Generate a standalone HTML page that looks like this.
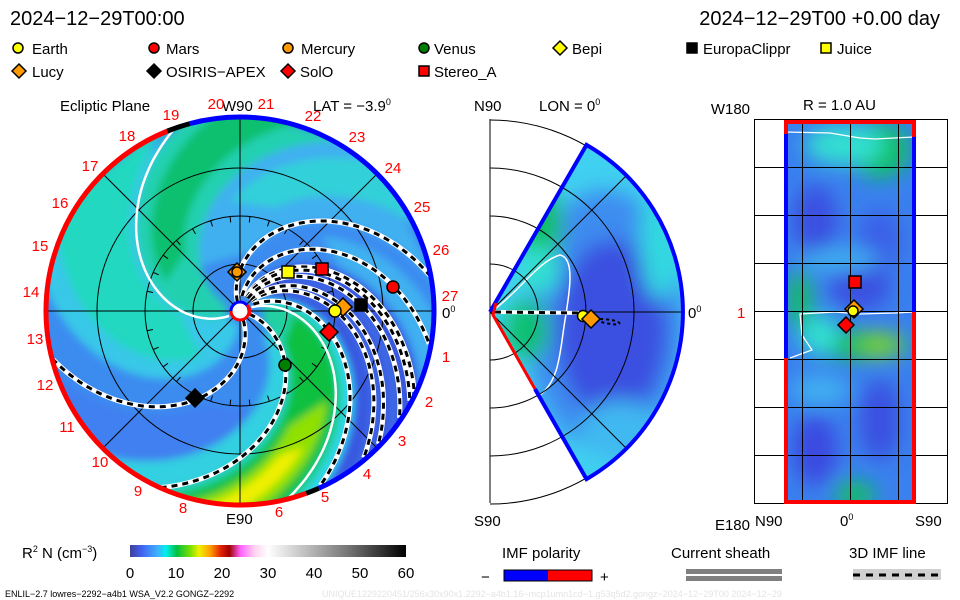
<!DOCTYPE html>
<html><head><meta charset="utf-8">
<style>
html,body{margin:0;padding:0;background:#fff;}
svg{display:block;font-family:"Liberation Sans",sans-serif;}
</style></head>
<body>
<svg id="s" width="960" height="600" viewBox="0 0 960 600" xmlns="http://www.w3.org/2000/svg">
<defs>
<filter id="bl" x="-10%" y="-10%" width="120%" height="120%"><feGaussianBlur stdDeviation="4"/></filter>
<filter id="bl2" x="-30%" y="-30%" width="160%" height="160%"><feGaussianBlur stdDeviation="10"/></filter>
<clipPath id="cL"><circle cx="240" cy="311" r="193"/></clipPath>
<clipPath id="cM"><path d="M490,312 L586.5,144.9 A193,193 0 0 1 586.5,479.1 Z"/></clipPath>
<clipPath id="cR"><rect x="785" y="122" width="129" height="380"/></clipPath>
<linearGradient id="cb" x1="0" x2="1" y1="0" y2="0">
<stop offset="0" stop-color="#404098"/>
<stop offset="0.04" stop-color="#4060f0"/>
<stop offset="0.1" stop-color="#40b0ff"/>
<stop offset="0.13" stop-color="#00f0f0"/>
<stop offset="0.17" stop-color="#00c040"/>
<stop offset="0.22" stop-color="#80e000"/>
<stop offset="0.25" stop-color="#f0f000"/>
<stop offset="0.29" stop-color="#ffa000"/>
<stop offset="0.33" stop-color="#e02000"/>
<stop offset="0.36" stop-color="#a00000"/>
<stop offset="0.40" stop-color="#ff60ff"/>
<stop offset="0.45" stop-color="#ffd0f0"/>
<stop offset="0.5" stop-color="#ffffff"/>
<stop offset="0.6" stop-color="#d0d0d0"/>
<stop offset="0.8" stop-color="#707070"/>
<stop offset="1" stop-color="#000000"/>
</linearGradient>
</defs>

<!-- LEFT PANEL -->
<g clip-path="url(#cL)">
<circle cx="240" cy="311" r="193" fill="#3c8cf0"/>
<g id="bands" filter="url(#bl)"></g>
</g>
<g id="leftgrid" fill="none" stroke="#000" stroke-width="1">
<circle cx="240" cy="311" r="47"/>
<circle cx="240" cy="311" r="95"/>
<circle cx="240" cy="311" r="143"/>
<line x1="47" y1="311" x2="433" y2="311"/>
<line x1="240" y1="118" x2="240" y2="504"/>
<line x1="104" y1="175" x2="376" y2="447"/>
<line x1="104" y1="447" x2="376" y2="175"/>
</g>
<g id="ticks" stroke="#000" stroke-width="1"></g>
<g id="lines"></g>
<g id="rim" fill="none" stroke-width="5"></g>
<circle cx="240" cy="311" r="9" fill="#fff"/>
<path d="M231,311 A9,9 0 0 1 249,311" fill="none" stroke="#0000ff" stroke-width="3"/>
<path d="M231,311 A9,9 0 0 0 249,311" fill="none" stroke="#ff0000" stroke-width="3"/>
<path d="M247,305 A9,9 0 0 1 249,315" fill="none" stroke="#ff0000" stroke-width="3"/>

<g stroke="#000" stroke-width="1.5">
<path d="M237,263 L246,272 L237,281 L228,272 Z" fill="#ff9900"/>
<circle cx="237" cy="272" r="5" fill="#ff9900"/>
<rect x="282" y="266" width="12" height="12" fill="#ffff00"/>
<rect x="316" y="263" width="12" height="12" fill="#ff0000"/>
<circle cx="393" cy="287" r="6" fill="#ff0000"/>
<path d="M343,298 L352,307 L343,316 L334,307 Z" fill="#ff9900"/>
<circle cx="335" cy="311" r="6" fill="#ffff00"/>
<rect x="355" y="299" width="12" height="12" fill="#000"/>
<path d="M329,323 L338,332 L329,341 L320,332 Z" fill="#ff0000"/>
<circle cx="285" cy="365" r="6" fill="#008000"/>
<path d="M195,389 L204,398 L195,407 L186,398 Z" fill="#000"/>
</g>

<g font-size="15" fill="#000">
<text x="60" y="111">Ecliptic Plane</text>
<text x="222" y="111">W90</text>
<text x="313" y="111">LAT = −3.9<tspan font-size="9" dy="-6">0</tspan></text>
<text x="226" y="524">E90</text>
<text x="442" y="318">0<tspan font-size="9" dy="-6">0</tspan></text>
</g>
<g font-size="15" fill="#ff0000" text-anchor="middle" dominant-baseline="middle">
<text x="216" y="105">20</text><text x="266" y="105">21</text>
<text x="313" y="117">22</text><text x="357" y="138">23</text><text x="393" y="169">24</text>
<text x="422" y="208">25</text><text x="441" y="251">26</text><text x="450" y="297">27</text>
<text x="446" y="358">1</text><text x="429" y="403">2</text><text x="402" y="442">3</text>
<text x="367" y="475">4</text><text x="325" y="498">5</text><text x="279" y="513">6</text>
<text x="183" y="509">8</text><text x="138" y="492">9</text><text x="100" y="463">10</text>
<text x="67" y="428">11</text><text x="45" y="386">12</text><text x="35" y="340">13</text>
<text x="31" y="293">14</text><text x="40" y="247">15</text><text x="60" y="204">16</text>
<text x="90" y="167">17</text><text x="127" y="137">18</text><text x="171" y="116">19</text>
</g>

<!-- MIDDLE PANEL -->
<g clip-path="url(#cM)">
<rect x="480" y="130" width="220" height="360" fill="#40d0f0"/>
<g filter="url(#bl2)">
<ellipse cx="605" cy="320" rx="80" ry="130" fill="#3c8cf0"/>
<ellipse cx="612" cy="330" rx="55" ry="90" fill="#3a50e0"/>
<ellipse cx="540" cy="225" rx="22" ry="40" fill="#10c060"/>
<ellipse cx="527" cy="330" rx="22" ry="30" fill="#10c070"/>
<ellipse cx="540" cy="270" rx="20" ry="25" fill="#30e0d0"/>
<ellipse cx="620" cy="430" rx="40" ry="30" fill="#40b8f0"/>
<ellipse cx="660" cy="240" rx="20" ry="60" fill="#30d8e0"/>
</g>
<path d="M496,308 C520,290 540,260 560,255 C575,258 570,290 565,320 C560,350 560,380 540,395" fill="none" stroke="#fff" stroke-width="1.5"/>
</g>
<g fill="none" stroke="#000" stroke-width="1">
<line x1="490" y1="119" x2="490" y2="503"/>
<path d="M490,264 A48,48 0 0 1 490,360"/>
<path d="M490,216 A96,96 0 0 1 490,408"/>
<path d="M490,168 A144,144 0 0 1 490,456"/>
<path d="M490,120 A192,192 0 0 1 490,504"/>
<line x1="490" y1="312" x2="682" y2="312"/>
<line x1="490" y1="312" x2="626" y2="176"/>
<line x1="490" y1="312" x2="626" y2="448"/>
</g>
<path d="M490,312 L586.5,144.9 A193,193 0 0 1 586.5,479.1 L535,389" fill="none" stroke="#0000ff" stroke-width="4"/>
<path d="M535,389 L493,315 L496,303" fill="none" stroke="#ff0000" stroke-width="3"/>
<path d="M495,312 L583,313" stroke="#fff" stroke-width="4"/>
<path d="M495,312 L583,313" stroke="#000" stroke-width="3" stroke-dasharray="6 5"/>
<path d="M590,318 C605,325 625,326 618,322 C610,318 600,320 590,318" fill="none" stroke="#000" stroke-width="2" stroke-dasharray="3 3"/>
<g stroke="#000" stroke-width="1.5">
<circle cx="583" cy="316" r="5.5" fill="#ffff00"/>
<path d="M591,310 L600,319 L591,328 L582,319 Z" fill="#ff9900"/>
</g>
<g font-size="15" fill="#000">
<text x="474" y="111">N90</text>
<text x="539" y="111">LON = 0<tspan font-size="9" dy="-6">0</tspan></text>
<text x="474" y="526">S90</text>
<text x="688" y="318">0<tspan font-size="9" dy="-6">0</tspan></text>
</g>

<!-- RIGHT PANEL -->
<g clip-path="url(#cR)">
<rect x="785" y="122" width="129" height="380" fill="#3a80ee"/>
<g filter="url(#bl2)">
<ellipse cx="880" cy="150" rx="30" ry="28" fill="#10c060"/>
<ellipse cx="845" cy="145" rx="40" ry="20" fill="#30e0d0"/>
<ellipse cx="815" cy="220" rx="22" ry="35" fill="#3a50e0"/>
<ellipse cx="880" cy="240" rx="22" ry="30" fill="#3a60e8"/>
<ellipse cx="800" cy="300" rx="12" ry="30" fill="#10c060"/>
<ellipse cx="860" cy="285" rx="30" ry="25" fill="#3a50e0"/>
<ellipse cx="860" cy="345" rx="50" ry="14" fill="#10c050"/>
<ellipse cx="880" cy="345" rx="20" ry="10" fill="#80d820"/>
<ellipse cx="820" cy="335" rx="20" ry="20" fill="#30e0d0"/>
<ellipse cx="815" cy="450" rx="22" ry="35" fill="#3a48e0"/>
<ellipse cx="880" cy="420" rx="20" ry="40" fill="#3a50e0"/>
<ellipse cx="855" cy="495" rx="20" ry="14" fill="#10c060"/>
<ellipse cx="820" cy="390" rx="30" ry="15" fill="#40b0f0"/>
<ellipse cx="840" cy="260" rx="40" ry="10" fill="#40b8f0"/>
</g>
<path d="M785,132 L830,133 L860,138 L875,139 L914,137" fill="none" stroke="#fff" stroke-width="1.2"/>
<path d="M914,312 L895,313 L860,314 L835,312 L800,314 L802,335 L812,350 L790,358" fill="none" stroke="#fff" stroke-width="1.2"/>
</g>
<g fill="none" stroke="#000" stroke-width="1">
<rect x="754.5" y="119.5" width="193" height="384"/>
<line x1="754" y1="167.5" x2="947" y2="167.5"/><line x1="754" y1="215.5" x2="947" y2="215.5"/>
<line x1="754" y1="263.5" x2="947" y2="263.5"/><line x1="754" y1="311.5" x2="947" y2="311.5"/>
<line x1="754" y1="359.5" x2="947" y2="359.5"/><line x1="754" y1="407.5" x2="947" y2="407.5"/>
<line x1="754" y1="455.5" x2="947" y2="455.5"/>
<line x1="802.5" y1="119" x2="802.5" y2="503"/><line x1="850.5" y1="119" x2="850.5" y2="503"/>
<line x1="898.5" y1="119" x2="898.5" y2="503"/>
</g>
<g fill="none" stroke-width="4">
<path d="M786,134 L786,122 L914,122 L914,137" stroke="#ff0000"/>
<path d="M786,134 L786,358" stroke="#0000ff"/>
<path d="M786,358 L786,502 L914,502 L914,312" stroke="#ff0000"/>
<path d="M914,137 L914,312" stroke="#0000ff"/>
</g>
<g stroke="#000" stroke-width="1.5">
<rect x="849" y="276" width="12" height="12" fill="#ff0000"/>
<path d="M854,300 L863,309 L854,318 L845,309 Z" fill="#ff9900"/>
<circle cx="853" cy="311" r="5" fill="#ffff00"/>
<path d="M846,317 L854,325 L846,333 L838,325 Z" fill="#ff0000"/>
</g>
<g font-size="15" fill="#000">
<text x="750" y="114" text-anchor="end">W180</text>
<text x="803" y="110">R = 1.0 AU</text>
<text x="750" y="530" text-anchor="end">E180</text>
<text x="755" y="526">N90</text>
<text x="840" y="526">0<tspan font-size="9" dy="-6">0</tspan></text>
<text x="915" y="526">S90</text>
<text x="737" y="318" fill="#ff0000">1</text>
</g>

<!-- HEADER -->
<g fill="#000">
<text x="10" y="25" font-size="20">2024−12−29T00:00</text>
<text x="940" y="25" font-size="20" text-anchor="end">2024−12−29T00 +0.00 day</text>
</g>
<g font-size="15" fill="#000" stroke="#000" stroke-width="1.5">
<circle cx="18" cy="48" r="5" fill="#ffff00"/>
<circle cx="154" cy="48" r="5" fill="#ff0000"/>
<circle cx="288" cy="48" r="5" fill="#ff9900"/>
<circle cx="424" cy="48" r="5" fill="#008000"/>
<path d="M560,41 L567,48 L560,55 L553,48 Z" fill="#ffff00"/>
<rect x="687" y="43" width="10" height="10" fill="#000"/>
<rect x="821" y="43" width="10" height="10" fill="#ffff00"/>
<path d="M19,64 L26,71 L19,78 L12,71 Z" fill="#ff9900"/>
<path d="M154,64 L161,71 L154,78 L147,71 Z" fill="#000"/>
<path d="M288,64 L295,71 L288,78 L281,71 Z" fill="#ff0000"/>
<rect x="419" y="66" width="10" height="10" fill="#ff0000"/>
</g>
<g font-size="15" fill="#000">
<text x="32" y="54">Earth</text>
<text x="166" y="54">Mars</text>
<text x="301" y="54">Mercury</text>
<text x="434" y="54">Venus</text>
<text x="572" y="54">Bepi</text>
<text x="703" y="54">EuropaClippr</text>
<text x="837" y="54">Juice</text>
<text x="32" y="77">Lucy</text>
<text x="166" y="77">OSIRIS−APEX</text>
<text x="300" y="77">SolO</text>
<text x="434" y="77">Stereo_A</text>
</g>

<!-- BOTTOM LEGEND -->
<rect x="130" y="545" width="276" height="12" fill="url(#cb)"/>
<g font-size="15" fill="#000">
<text x="22" y="558">R<tspan font-size="9" dy="-6">2</tspan><tspan dy="6"> N (cm</tspan><tspan font-size="9" dy="-6">−3</tspan><tspan dy="6">)</tspan></text>
<g text-anchor="middle">
<text x="130" y="578">0</text><text x="176" y="578">10</text><text x="222" y="578">20</text>
<text x="268" y="578">30</text><text x="314" y="578">40</text><text x="360" y="578">50</text>
<text x="406" y="578">60</text></g>
<text x="502" y="558">IMF polarity</text>
<text x="481" y="582">−</text>
<text x="600" y="582">+</text>
<text x="671" y="558">Current sheath</text>
<text x="849" y="558">3D IMF line</text>
</g>
<rect x="504" y="570" width="44" height="11" fill="#0000ff"/>
<rect x="548" y="570" width="44" height="11" fill="#ff0000"/>
<rect x="504" y="570" width="88" height="11" fill="none" stroke="#000" stroke-width="1"/>
<rect x="686" y="569" width="96" height="5" fill="#808080"/>
<rect x="686" y="576" width="96" height="5" fill="#808080"/>
<rect x="853" y="569" width="88" height="11" fill="#d0d0d0"/>
<line x1="853" y1="575" x2="941" y2="575" stroke="#000" stroke-width="3" stroke-dasharray="7 6"/>
<text x="5" y="597" font-size="9" fill="#000">ENLIL−2.7 lowres−2292−a4b1 WSA_V2.2 GONGZ−2292</text>
<text x="322" y="597" font-size="9" fill="#e4e4e4">UNIQUE1229220451/256x30x90x1.2292−a4b1.16−mcp1umn1cd−1.g53q5d2.gongz−2024−12−29T00   2024−12−29</text>
</svg>
<script>
(function(){
var NS="http://www.w3.org/2000/svg",cx=240,cy=311,k=0.52;
function P(r,t0){var a=(t0+k*r)*Math.PI/180;return [cx+r*Math.cos(a),cy+r*Math.sin(a)];}
function spiral(t0,r1,r2){var s=[];for(var r=r1;r<=r2;r+=3){var p=P(r,t0);s.push(p[0].toFixed(1)+","+p[1].toFixed(1));}return s;}
function el(par,tag,at){var e=document.createElementNS(NS,tag);for(var a in at)e.setAttribute(a,at[a]);document.getElementById(par).appendChild(e);return e;}
var bands=[
[85,150,15,210,'#38c8e8'],[100,145,60,210,'#20d8c0'],[150,198,15,210,'#20d0b0'],
[160,185,80,210,'#10c070'],[198,250,60,210,'#40b0f0'],[208,232,110,210,'#30d0d8'],
[-100,-80,110,210,'#40b0f0'],[-78,-37,35,210,'#3858e0'],[-64,-60,60,210,'#4070e8'],[-52,-48,60,210,'#4070e8'],
[-37,-28,15,210,'#30d8f0'],[-30,12,25,210,'#20d0a0'],[-25,8,55,210,'#10c040'],
[-19,2,125,210,'#90e000'],[-13,-3,150,210,'#f0f000'],[12,30,35,210,'#30d0e0'],[30,60,100,210,'#4080f0']];
bands.forEach(function(b){var a=spiral(b[0],b[2],b[3]),c=spiral(b[1],b[2],b[3]).reverse();
el('bands','polygon',{points:a.concat(c).join(' '),fill:b[4]});});
for(var t=0;t<360;t+=12){var a=t*Math.PI/180;el('ticks','line',{x1:cx+95*Math.cos(a),y1:cy+95*Math.sin(a),x2:cx+89*Math.cos(a),y2:cy+89*Math.sin(a)});}
function cl(t0,r1,r2){return spiral(t0,r1,r2).join(' ');}
[149.5,-25].forEach(function(t){el('lines','polyline',{points:cl(t,12,195),fill:'none',stroke:'#fff','stroke-width':2.5});});
var dl=[[-111,10,193],[65,10,193],[13.5,10,193],[-90,15,193],[-75,15,193],[-72,15,193],[-50,15,193],[-56,15,193],[-66,15,193],[-34.6,15,193]];
dl.forEach(function(d){var p=cl(d[0],d[1],d[2]);
el('lines','polyline',{points:p,fill:'none',stroke:'#fff','stroke-width':5});
el('lines','polyline',{points:p,fill:'none',stroke:'#000','stroke-width':3,'stroke-dasharray':'6 5'});});
function arc(a1,a2,col){var r=194,p1=[cx+r*Math.cos(a1*Math.PI/180),cy+r*Math.sin(a1*Math.PI/180)],p2=[cx+r*Math.cos(a2*Math.PI/180),cy+r*Math.sin(a2*Math.PI/180)];
var large=((a2-a1+360)%360)>180?1:0;el('rim','path',{d:'M'+p1+' A'+r+','+r+' 0 '+large+' 1 '+p2,stroke:col});}
arc(-105,66,'#0000ff');arc(70,248,'#ff0000');arc(66,70,'#000');arc(248,255,'#000');
})();
</script>
</body></html>
